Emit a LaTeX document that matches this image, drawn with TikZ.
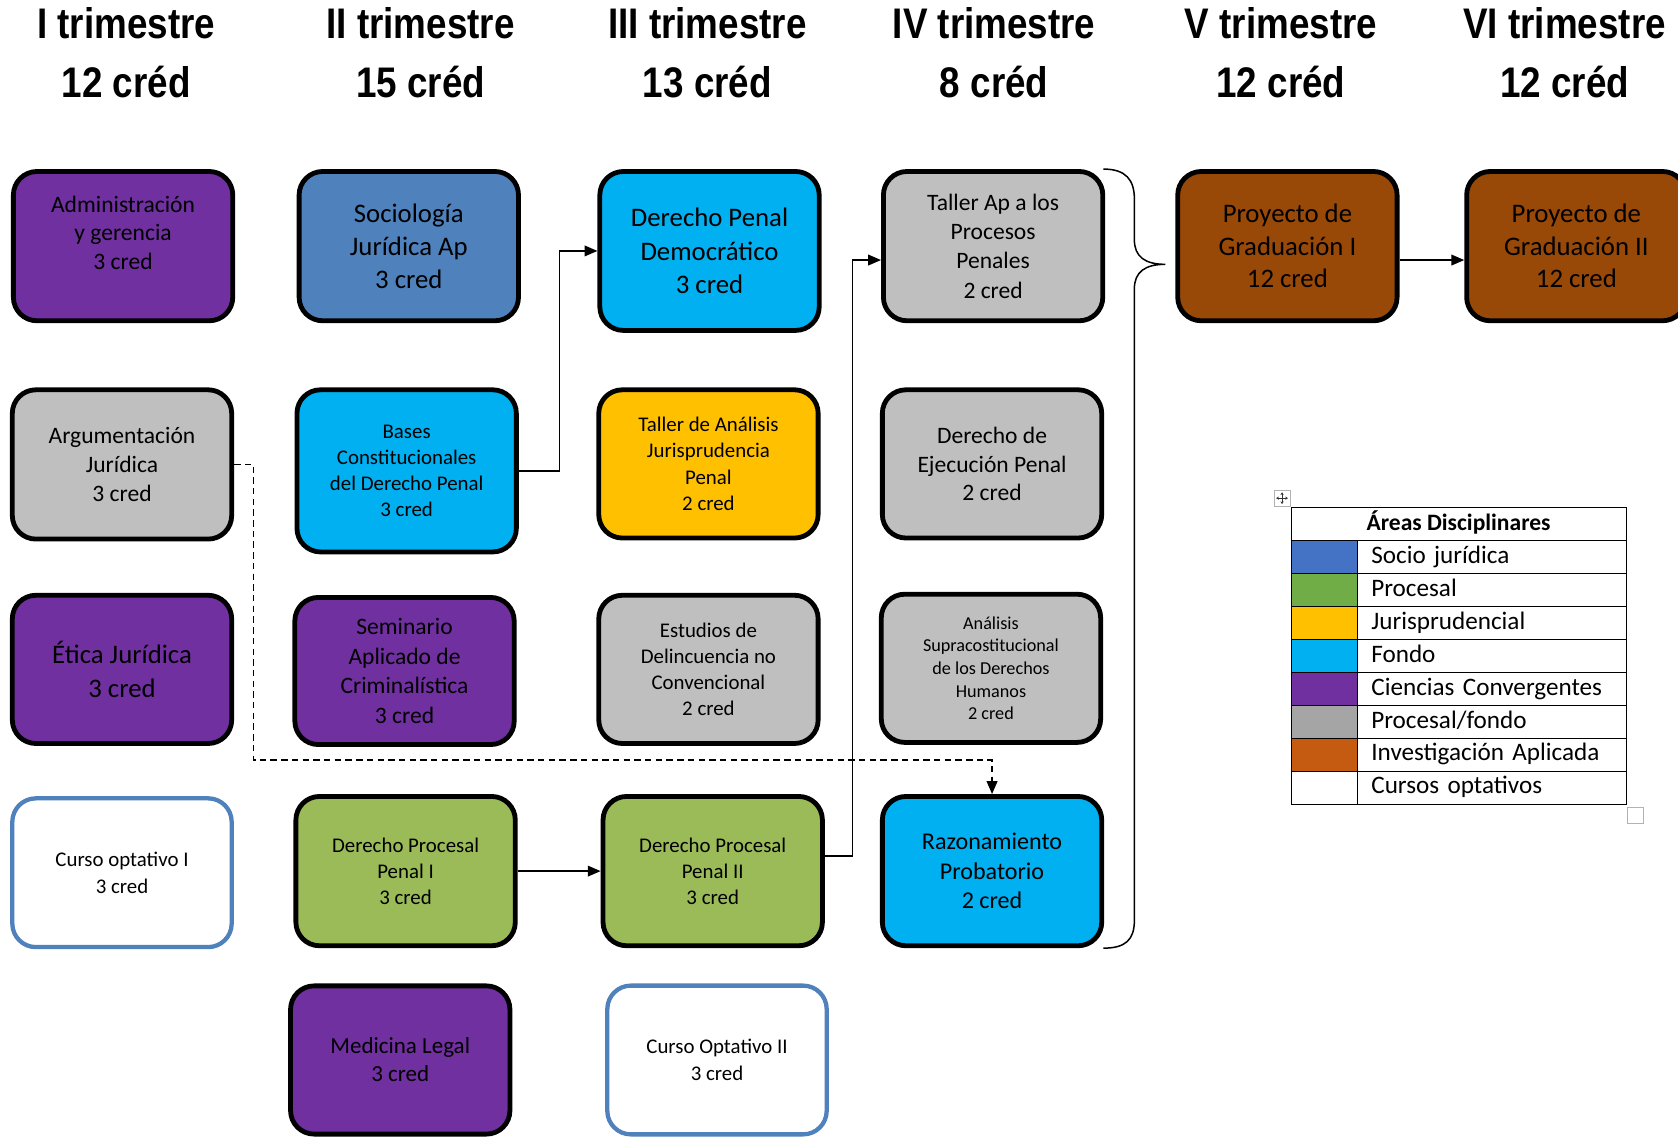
\documentclass[tikz,border=0pt]{standalone}
\usepackage{fontspec}
\setmainfont{Carlito}
\newfontfamily\headfont{Liberation Sans}[FakeStretch=0.86]
\usetikzlibrary{arrows.meta,calc}
\definecolor{purp}{HTML}{7030A0}
\definecolor{sociob}{HTML}{4F81BD}
\definecolor{fondo}{HTML}{00B0F0}
\definecolor{juris}{HTML}{FFC000}
\definecolor{grayb}{HTML}{BFBFBF}
\definecolor{greenb}{HTML}{9BBB59}
\definecolor{brownb}{HTML}{984807}
\definecolor{optblue}{HTML}{4F81BD}
\definecolor{legsocio}{HTML}{4472C4}
\definecolor{legproc}{HTML}{70AD47}
\definecolor{leggray}{HTML}{A5A5A5}
\definecolor{leginv}{HTML}{C55A11}
\tikzset{
  cbox/.style={draw=black, line width=4.5pt, rounded corners=22pt, align=center,
    minimum width=205pt, inner sep=2pt, text=black},
  optbox/.style={cbox, draw=optblue, line width=4pt, fill=white},
  conn/.style={line width=1.4pt, -{Triangle[length=12pt,width=10pt]}},
  dconn/.style={conn, dash pattern=on 6pt off 4pt},
  head/.style={font={\headfont\bfseries\fontsize{40}{48}\selectfont}, anchor=base},
  legcell/.style={draw=black, line width=0.9pt, inner sep=0pt, anchor=north west,
    minimum height=30.75pt},
}
\begin{document}
\begin{tikzpicture}[x=1pt,y=-1pt]
\useasboundingbox (0,0) rectangle (1568,1064);
\clip (0,0) rectangle (1568,1064);
\fill[white] (0,0) rectangle (1568,1064);

% headings
\foreach \x/\t/\c [count=\i] in {118/I/12, 393/II/15, 661/III/13, 929/IV/8, 1197/V/12, 1462/VI/12}{
  \node[head] (h\i) at (\x,36) {\t\ trimestre};
  \node[head] (c\i) at (\x,91) {\c\ créd};
}

% column 1
\node[cbox, fill=purp, minimum height=139.5pt, font=\fontsize{22}{27}\selectfont] (admin) at (115,230)
  {Administración\\y gerencia\\3 cred\\[-2pt]\mbox{}};
\node[cbox, fill=grayb, minimum height=139.5pt, font=\fontsize{22}{27.5}\selectfont] (arg) at (114,434)
  {Argumentación\\Jurídica\\3 cred};
\node[cbox, fill=purp, minimum height=138.5pt, font=\fontsize{25}{31}\selectfont] (etica) at (114,625.5)
  {Ética Jurídica\\3 cred};
\node[optbox, minimum height=139pt, font=\fontsize{19.5}{25}\selectfont] (opt1) at (114,815.5)
  {Curso optativo I\\3 cred};

% column 2
\node[cbox, fill=sociob, minimum height=139.5pt, font=\fontsize{25}{31}\selectfont] (socio) at (382,230)
  {Sociología\\Jurídica Ap\\3 cred};
\node[cbox, fill=fondo, minimum height=151.5pt, font=\fontsize{19.5}{24.5}\selectfont] (bases) at (380,440)
  {Bases\\Constitucionales\\del Derecho Penal\\3 cred};
\node[cbox, fill=purp, minimum height=137.5pt, font=\fontsize{22}{27.5}\selectfont] (semi) at (378,627)
  {Seminario\\Aplicado de\\Criminalística\\3 cred};
\node[cbox, fill=greenb, minimum height=139.5pt, font=\fontsize{19.5}{24.5}\selectfont] (dpp1) at (379,814)
  {Derecho Procesal\\Penal I\\3 cred};
\node[cbox, fill=purp, minimum height=138.5pt, font=\fontsize{21.5}{26}\selectfont] (medi) at (374,990.5)
  {Medicina Legal\\3 cred};

% column 3
\node[cbox, fill=fondo, minimum height=148.5pt, font=\fontsize{25}{31}\selectfont] (dpd) at (663,234.5)
  {Derecho Penal\\Democrático\\3 cred};
\node[cbox, fill=juris, minimum height=138.5pt, font=\fontsize{19.5}{24.5}\selectfont] (tan) at (662,433.5)
  {Taller de Análisis\\Jurisprudencia\\Penal\\2 cred};
\node[cbox, fill=grayb, minimum height=138.5pt, font=\fontsize{19.5}{24.5}\selectfont] (estu) at (662,625.5)
  {Estudios de\\Delincuencia no\\Convencional\\2 cred};
\node[cbox, fill=greenb, minimum height=139.5pt, font=\fontsize{19.5}{24.5}\selectfont] (dpp2) at (666,814)
  {Derecho Procesal\\Penal II\\3 cred};
\node[optbox, minimum height=139pt, font=\fontsize{19.5}{25}\selectfont] (opt2) at (670,990.5)
  {Curso Optativo II\\3 cred};

% column 4
\node[cbox, fill=grayb, minimum height=139.5pt, font=\fontsize{22}{27.3}\selectfont] (tap) at (928,230)
  {Taller Ap a los\\Procesos\\Penales\\2 cred};
\node[cbox, fill=grayb, minimum height=138.5pt, font=\fontsize{22}{27}\selectfont] (ejec) at (927,433.5)
  {Derecho de\\Ejecución Penal\\2 cred};
\node[cbox, fill=grayb, minimum height=138.5pt, font=\fontsize{17}{21.2}\selectfont] (supra) at (926,624.5)
  {Análisis\\Supracostitucional\\de los Derechos\\Humanos\\2 cred};
\node[cbox, fill=fondo, minimum height=139.5pt, font=\fontsize{22.5}{27.5}\selectfont] (raz) at (927,814)
  {Razonamiento\\Probatorio\\2 cred};

% columns 5-6
\node[cbox, fill=brownb, minimum height=139.5pt, font=\fontsize{25}{30.5}\selectfont] (pg1) at (1203,230)
  {Proyecto de\\Graduación I\\12 cred};
\node[cbox, fill=brownb, minimum height=139.5pt, font=\fontsize{25}{30.5}\selectfont] (pg2) at (1473,230)
  {Proyecto de\\Graduación II\\12 cred};

% connectors
\draw[conn] (bases.east) -- ++(38,0) |- (dpd.west);
\draw[conn] ([yshift=14pt]dpp2.east) -- ++(26,0) |- ([yshift=-13pt]tap.west);
\draw[conn] (dpp1.east) -- (dpp2.west);
\draw[dconn] (arg.east) -- ++(18,0) -- ++(0,276) -| (raz.north);
\draw[conn] ([yshift=-13pt]pg1.east) -- ([yshift=-13pt]pg2.west);

% brace
\draw[line width=1.4pt] (1031,158) .. controls (1052,158) and (1060,168) .. (1060,186)
  -- (1060,224) .. controls (1060,240) and (1070,247) .. (1089,247)
  .. controls (1070,247) and (1060,254) .. (1060,270)
  -- (1060,860) .. controls (1060,878) and (1052,886) .. (1031,886);

% legend
\node[legcell, minimum width=313pt, text height=16pt, text depth=5pt,
      font=\fontsize{22}{26}\selectfont\bfseries] (legh) at (1206,474) {Áreas Disciplinares};
\foreach \c/\t [count=\i] in {legsocio/{Socio jurídica}, legproc/{Procesal}, juris/{Jurisprudencial}, fondo/{Fondo},
   purp/{Ciencias Convergentes}, leggray/{Procesal/fondo}, leginv/{Investigación Aplicada}, white/{Cursos optativos}}{
  \node[legcell, fill=\c, minimum width=62pt] (lc\i) at (1206,{505+(\i-1)*30.75}) {};
  \node[legcell, minimum width=251pt, text width=225pt, inner xsep=13pt, align=left,
        text height=17pt, text depth=5.5pt,
        font=\fontsize{23.5}{26}\selectfont] (lt\i) at (1268,{505+(\i-1)*30.75}) {\t};
}
\node[draw=gray!60, line width=0.7pt, minimum size=15pt, inner sep=0pt] (mv) at (1198,465.5) {};
\draw[gray!40!black, line width=0.6pt, {Stealth[length=2.5pt,width=3pt]}-{Stealth[length=2.5pt,width=3pt]}]
  ($(mv.center)+(-5.5,0)$) -- ($(mv.center)+(5.5,0)$);
\draw[gray!40!black, line width=0.6pt, {Stealth[length=2.5pt,width=3pt]}-{Stealth[length=2.5pt,width=3pt]}]
  ($(mv.center)+(0,-5.5)$) -- ($(mv.center)+(0,5.5)$);
\node[draw=gray!60, line width=0.7pt, minimum size=15pt, inner sep=0pt] (rs) at (1528,761.5) {};
\end{tikzpicture}
\end{document}
